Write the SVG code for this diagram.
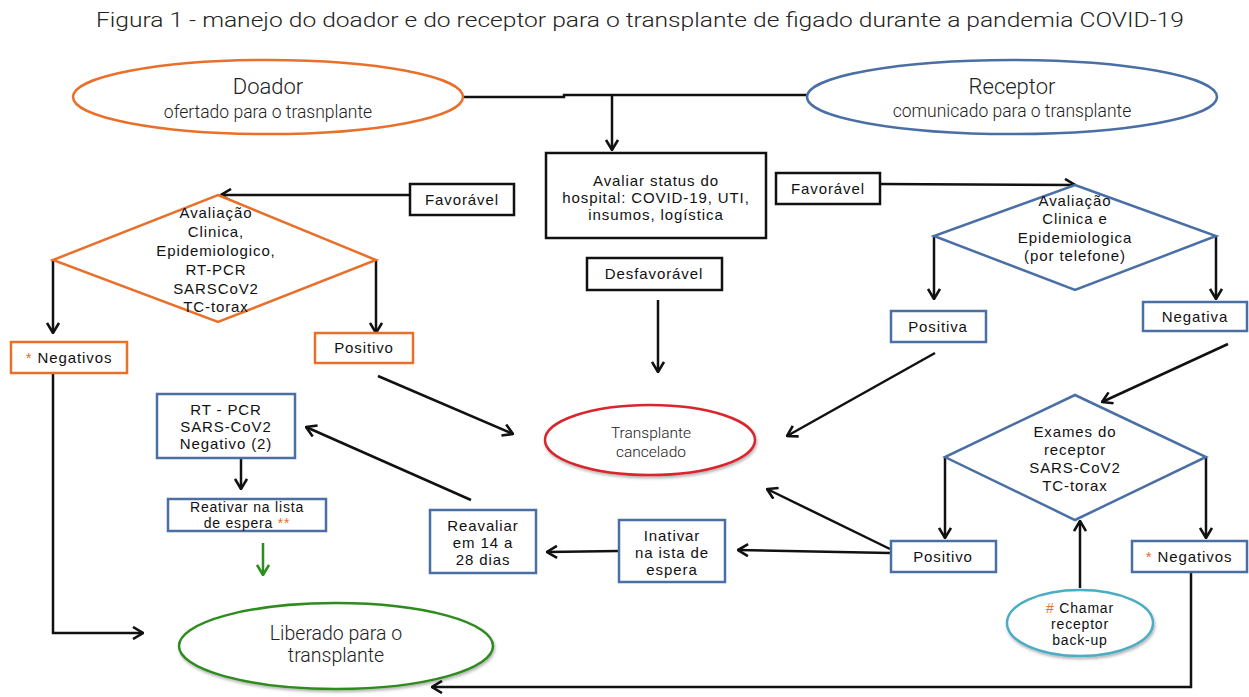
<svg xmlns="http://www.w3.org/2000/svg" width="1249" height="697" viewBox="0 0 1249 697">
<style>
.t{font-family:"Liberation Sans",Arial,sans-serif;font-size:15px;letter-spacing:0.9px;fill:#111;text-anchor:middle}
.s{font-size:14px;letter-spacing:0.8px}
.lt{font-family:"Roboto","Liberation Sans",sans-serif;font-weight:300;fill:#222;text-anchor:middle}
.box{fill:#fff;stroke-width:2.5}
.k{stroke:#111}
.o{stroke:#E8702A}
.b{stroke:#4A6FA5}
.c{fill:none;stroke:#111;stroke-width:2.5;marker-end:url(#ah)}
.ast{fill:#E8702A}
</style>
<defs>
<marker id="ah" viewBox="0 0 12 14" refX="11" refY="7" markerWidth="12" markerHeight="14" markerUnits="userSpaceOnUse" orient="auto">
<path d="M1,1 L11,7 L1,13" fill="none" stroke="#111" stroke-width="2.6"/>
</marker>
<marker id="ahg" viewBox="0 0 12 14" refX="11" refY="7" markerWidth="12" markerHeight="14" markerUnits="userSpaceOnUse" orient="auto">
<path d="M1,1 L11,7 L1,13" fill="none" stroke="#2E8B1F" stroke-width="2.6"/>
</marker>
<filter id="sh" x="-10%" y="-10%" width="130%" height="140%"><feDropShadow dx="1" dy="2" stdDeviation="1.5" flood-opacity="0.3"/></filter>
</defs>

<text id="title" x="640" y="27" class="lt" font-size="21" textLength="1088" lengthAdjust="spacingAndGlyphs">Figura 1  - manejo do doador e do receptor para o transplante de figado durante a pandemia COVID-19</text>

<g id="connectors">
<path d="M462,97 L564,97 L564,95 L808,95" fill="none" stroke="#111" stroke-width="2.5"/>
<path class="c" d="M612,96 L612,150"/>
<path class="c" d="M410,195 L221,195"/>
<path class="c" d="M53,260 L53,333"/>
<path class="c" d="M376,260 L376,333"/>
<path class="c" d="M880,184 L1075,185"/>
<path class="c" d="M934,236 L934,299"/>
<path class="c" d="M1216,236 L1216,299"/>
<path class="c" d="M658,300 L658,372"/>
<path class="c" d="M378,376 L513,434"/>
<path class="c" d="M935,353 L787,436"/>
<path class="c" d="M890,549 L767,489"/>
<path class="c" d="M1228,344 L1102,402"/>
<path class="c" d="M945,457 L945,538"/>
<path class="c" d="M1206,457 L1206,538"/>
<path class="c" d="M1080,588 L1080,521"/>
<path class="c" d="M1191,572 L1191,687 L432,687"/>
<path class="c" d="M890,553 L738,550"/>
<path class="c" d="M619,551 L547,552"/>
<path class="c" d="M471,500 L306,427"/>
<path class="c" d="M241,458 L241,489"/>
<path d="M263,543 L263,575" fill="none" stroke="#2E8B1F" stroke-width="2.5" marker-end="url(#ahg)"/>
<path class="c" d="M53,373 L53,633 L143,633"/>
</g>

<g id="doador">
<ellipse cx="268" cy="97" rx="195" ry="37" fill="#fff" stroke="#E8702A" stroke-width="2.5"/>
<text x="268" y="94" class="lt" font-size="22">Doador</text>
<text x="268" y="118" class="lt" font-size="17.5">ofertado para o trasnplante</text>
</g>

<g id="receptor">
<ellipse cx="1012" cy="97" rx="205" ry="37" fill="#fff" stroke="#4A6FA5" stroke-width="2.5"/>
<text x="1012" y="94" class="lt" font-size="22">Receptor</text>
<text x="1012" y="117" class="lt" font-size="17.5">comunicado para o transplante</text>
</g>

<g id="hospital">
<rect x="546" y="153" width="220" height="85" class="box k"/>
<text class="t" x="656" y="186">Avaliar  status do</text>
<text class="t" x="656" y="203">hospital: COVID-19, UTI,</text>
<text class="t" x="656" y="220">insumos, logística</text>
</g>

<g id="favoravel-doador">
<rect x="410" y="184" width="104" height="31" class="box k"/>
<text class="t" x="462" y="205">Favorável</text>
</g>

<g id="avaliacao-doador">
<polygon points="218,195 376,260 218,322 53,260" fill="#fff" stroke="#E8702A" stroke-width="2.5"/>
<text class="t" x="216" y="218">Avaliação</text>
<text class="t" x="216" y="237">Clinica,</text>
<text class="t" x="216" y="256">Epidemiologico,</text>
<text class="t" x="216" y="275">RT-PCR</text>
<text class="t" x="216" y="294">SARSCoV2</text>
<text class="t" x="216" y="312">TC-torax</text>
</g>

<g id="negativos-doador">
<rect x="11" y="342" width="116" height="31" class="box o"/>
<text class="t" x="69" y="363"><tspan class="ast">*</tspan> Negativos</text>
</g>

<g id="positivo-doador">
<rect x="315" y="333" width="98" height="30" class="box o"/>
<text class="t" x="364" y="353">Positivo</text>
</g>

<g id="favoravel-receptor">
<rect x="776" y="173" width="104" height="31" class="box k"/>
<text class="t" x="828" y="194">Favorável</text>
</g>

<g id="avaliacao-receptor">
<polygon points="1075,185 1216,236 1075,290 934,236" fill="#fff" stroke="#4A6FA5" stroke-width="2.5"/>
<text class="t" x="1075" y="206">Avaliação</text>
<text class="t" x="1075" y="224">Clinica e</text>
<text class="t" x="1075" y="243">Epidemiologica</text>
<text class="t" x="1075" y="261">(por telefone)</text>
</g>

<g id="positiva">
<rect x="891" y="311" width="95" height="31" class="box b"/>
<text class="t" x="938" y="332">Positiva</text>
</g>

<g id="negativa">
<rect x="1143" y="302" width="104" height="29" class="box b"/>
<text class="t" x="1195" y="322">Negativa</text>
</g>

<g id="desfavoravel">
<rect x="587" y="258" width="135" height="32" class="box k"/>
<text class="t" x="654" y="279">Desfavorável</text>
</g>

<g id="cancelado">
<ellipse cx="650" cy="440" rx="105" ry="35" fill="#fff" stroke="#D9262E" stroke-width="2.5" filter="url(#sh)"/>
<text x="651" y="438" class="lt" font-size="15.5" fill="#444">Transplante</text>
<text x="651" y="456.5" class="lt" font-size="15.5" fill="#444">cancelado</text>
</g>

<g id="exames">
<polygon points="1075,395 1206,457 1075,520 945,457" fill="#fff" stroke="#4A6FA5" stroke-width="2.5"/>
<text class="t" x="1075" y="437">Exames do</text>
<text class="t" x="1075" y="455">receptor</text>
<text class="t" x="1075" y="473">SARS-CoV2</text>
<text class="t" x="1075" y="491">TC-torax</text>
</g>

<g id="positivo-receptor">
<rect x="891" y="541" width="105" height="31" class="box b"/>
<text class="t" x="943" y="562">Positivo</text>
</g>

<g id="negativos-receptor">
<rect x="1132" y="541" width="115" height="31" class="box b"/>
<text class="t" x="1189" y="562"><tspan class="ast">*</tspan> Negativos</text>
</g>

<g id="backup">
<ellipse cx="1080" cy="623" rx="73" ry="33" fill="#fff" stroke="#4BACC6" stroke-width="2.5" filter="url(#sh)"/>
<text class="t s" x="1080" y="613"><tspan class="ast">#</tspan> Chamar</text>
<text class="t s" x="1080" y="629">receptor</text>
<text class="t s" x="1080" y="645">back-up</text>
</g>

<g id="inativar">
<rect x="619" y="520" width="106" height="62" class="box b"/>
<text class="t" x="672" y="541">Inativar</text>
<text class="t" x="672" y="558">na ista de</text>
<text class="t" x="672" y="575">espera</text>
</g>

<g id="reavaliar">
<rect x="430" y="510" width="106" height="63" class="box b"/>
<text class="t" x="483" y="531">Reavaliar</text>
<text class="t" x="483" y="548">em 14 a</text>
<text class="t" x="483" y="565">28 dias</text>
</g>

<g id="rtpcr">
<rect x="157" y="394" width="138" height="64" class="box b"/>
<text class="t" x="226" y="415">RT - PCR</text>
<text class="t" x="226" y="432">SARS-CoV2</text>
<text class="t" x="226" y="449">Negativo (2)</text>
</g>

<g id="reativar">
<rect x="168" y="499" width="158" height="32" class="box b"/>
<text class="t s" x="247" y="512">Reativar na lista</text>
<text class="t s" x="247" y="528">de espera <tspan class="ast">**</tspan></text>
</g>

<g id="liberado">
<ellipse cx="336" cy="646" rx="157" ry="43" fill="#fff" stroke="#2E8B1F" stroke-width="2.5" filter="url(#sh)"/>
<text x="336" y="640" class="lt" font-size="19.5">Liberado para o</text>
<text x="336" y="662" class="lt" font-size="19.5">transplante</text>
</g>
</svg>
